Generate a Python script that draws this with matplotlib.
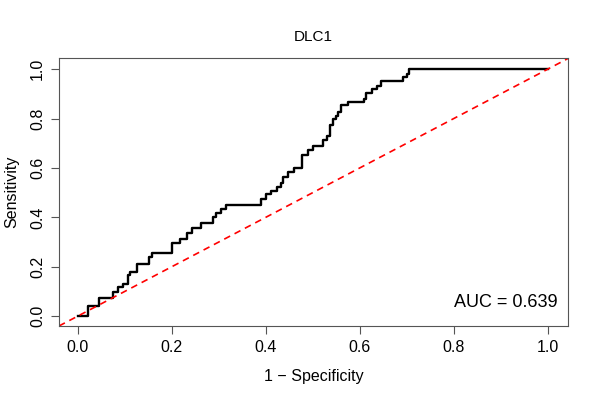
import matplotlib
matplotlib.use("Agg")
import matplotlib.pyplot as plt
import numpy as np

plt.rcParams['font.family'] = ['Liberation Sans', 'DejaVu Sans']

# ROC curve corners (1 - specificity, sensitivity)
fpr = [0.0, 0.022, 0.045, 0.074, 0.086, 0.097, 0.107, 0.111, 0.125, 0.152,
       0.158, 0.201, 0.217, 0.233, 0.244, 0.263, 0.287, 0.295, 0.305, 0.316,
       0.389, 0.401, 0.412, 0.423, 0.432, 0.437, 0.447, 0.460, 0.478, 0.490,
       0.500, 0.521, 0.530, 0.536, 0.542, 0.549, 0.554, 0.559, 0.575, 0.609,
       0.614, 0.625, 0.636, 0.646, 0.692, 0.701, 0.705, 1.0]
tpr = [0.0, 0.040, 0.074, 0.098, 0.119, 0.132, 0.166, 0.180, 0.209, 0.238,
       0.254, 0.298, 0.312, 0.335, 0.357, 0.375, 0.402, 0.416, 0.432, 0.449,
       0.476, 0.494, 0.507, 0.523, 0.537, 0.564, 0.582, 0.598, 0.652, 0.672,
       0.688, 0.713, 0.729, 0.773, 0.800, 0.810, 0.827, 0.854, 0.868, 0.881,
       0.904, 0.918, 0.931, 0.953, 0.969, 0.982, 1.000, 1.0]
auc = 0.639
ticks = [0.0, 0.2, 0.4, 0.6, 0.8, 1.0]

fig = plt.figure(figsize=(6, 4), dpi=100)
ax = fig.add_axes([0.0983, 0.185, 0.8484, 0.67])

ax.plot(fpr, tpr, drawstyle='steps-post', color='black', lw=1.7)
ax.axline((0, 0), slope=1, color='red', ls=(0, (4, 3)), lw=1.2)

ax.set_xlim(-0.04, 1.043)
ax.set_ylim(-0.04, 1.045)
ax.set_xticks(ticks)
ax.set_yticks(ticks)
ax.set_xticklabels([f'{t:.1f}' for t in ticks], fontsize=11.5)
ax.set_yticklabels([f'{t:.1f}' for t in ticks], fontsize=11.5, rotation=90, va='center')
ax.tick_params(direction='out', length=6, color='#555555', pad=4)
for s in ax.spines.values():
    s.set_color('#555555')

ax.text(1.021, 0.055, f'AUC = {auc:.3f}', ha='right', va='center', fontsize=13)
ax.set_title('DLC1', fontsize=11, pad=12)
ax.set_xlabel('1 \u2212 Specificity', fontsize=11.5, labelpad=10)
ax.set_ylabel('Sensitivity', fontsize=11.5, labelpad=8)

fig.savefig('out.png', dpi=100)
